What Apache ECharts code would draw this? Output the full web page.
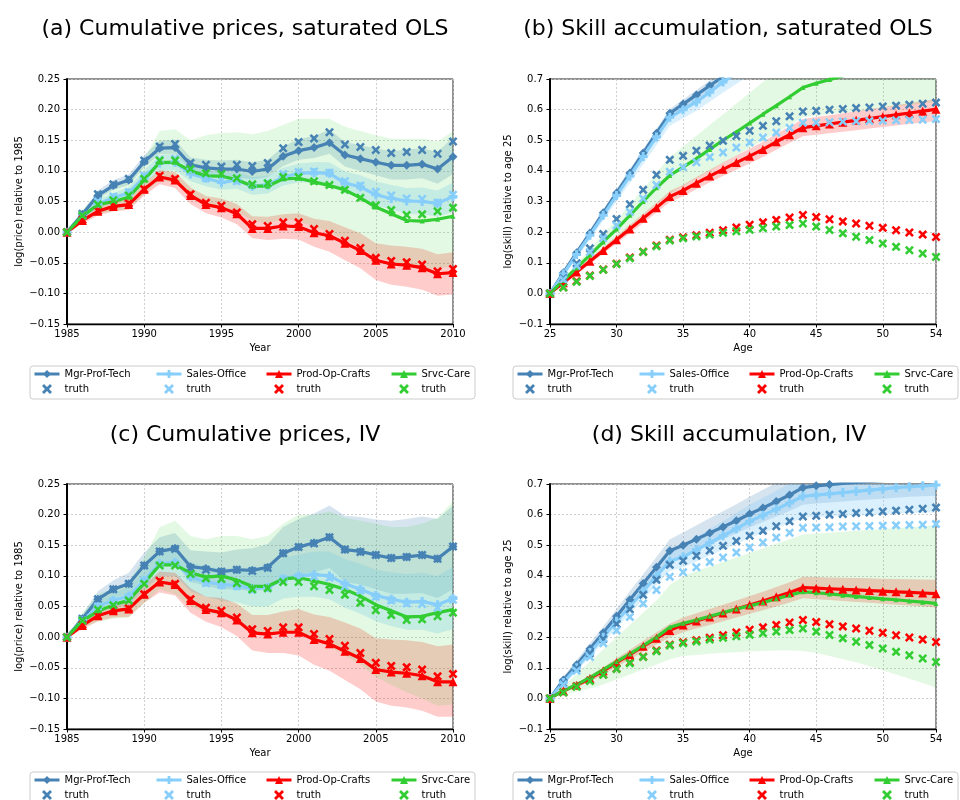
<!DOCTYPE html>
<html>
<head>
<meta charset="utf-8">
<script src="https://cdn.jsdelivr.net/npm/echarts@6/dist/echarts.min.js"></script>
<style>
  html, body { margin: 0; padding: 0; background: #fff; }
  #chart { width: 960px; height: 800px; }
</style>
</head>
<body>
<div id="chart"></div>
<script>
  // x values
  const years = [1985, 1986, 1987, 1988, 1989, 1990, 1991, 1992, 1993, 1994, 1995, 1996, 1997,
    1998, 1999, 2000, 2001, 2002, 2003, 2004, 2005, 2006, 2007, 2008, 2009, 2010];
  const ages = [25, 26, 27, 28, 29, 30, 31, 32, 33, 34, 35, 36, 37, 38, 39,
    40, 41, 42, 43, 44, 45, 46, 47, 48, 49, 50, 51, 52, 53, 54];

  // truth (same in both rows)
  const truthMgrPrice = [0, .03, .062, .078, .087, .117, .14, .144, .113, .11, .107, .11, .108, .113, .137, .147, .153, .163, .143, .139, .134, .129, .131, .134, .128, .148];
  const truthSalesPrice = [0, .027, .05, .058, .065, .092, .118, .12, .1, .088, .085, .083, .077, .08, .095, .098, .099, .097, .083, .076, .066, .06, .055, .054, .048, .061];
  const truthProdPrice = [0, .02, .035, .044, .047, .07, .092, .087, .062, .048, .043, .032, .013, .01, .016, .016, .005, -.003, -.014, -.026, -.042, -.047, -.049, -.053, -.064, -.06];
  const truthSrvcPrice = [0, .027, .045, .052, .06, .087, .117, .117, .103, .096, .095, .088, .078, .08, .09, .09, .083, .077, .069, .056, .044, .036, .028, .029, .034, .04];

  const truthMgrSkill = [0, .049, .098, .147, .194, .243, .291, .338, .387, .436, .449, .466, .483, .498, .514, .531, .547, .562, .578, .594, .596, .6, .602, .605, .607, .61, .613, .616, .619, .623];
  const truthSalesSkill = [0, .045, .09, .135, .18, .222, .266, .31, .354, .397, .412, .428, .445, .46, .476, .493, .509, .525, .541, .557, .558, .559, .561, .562, .563, .564, .565, .566, .567, .569];
  const truthProdSkill = [0, .02, .04, .058, .078, .097, .117, .136, .156, .175, .183, .19, .198, .206, .215, .224, .232, .24, .248, .256, .249, .242, .235, .228, .221, .214, .206, .199, .192, .184];
  const truthSrvcSkill = [0, .019, .038, .057, .077, .096, .115, .135, .154, .173, .18, .186, .192, .198, .203, .208, .213, .218, .223, .228, .218, .207, .196, .185, .174, .163, .152, .141, .13, .119];

  // (a) saturated OLS prices
  const estMgrA = [0, .029, .06, .076, .085, .115, .137, .138, .11, .105, .103, .103, .099, .103, .124, .133, .138, .146, .126, .12, .114, .109, .109, .111, .103, .123];
  const estSalesA = [0, .025, .046, .056, .064, .09, .113, .114, .095, .088, .081, .085, .075, .077, .09, .096, .097, .096, .08, .074, .061, .055, .051, .05, .047, .058];
  const estProdA = [0, .019, .034, .042, .045, .07, .09, .085, .06, .045, .04, .03, .006, .006, .01, .009, -.001, -.006, -.018, -.03, -.046, -.052, -.054, -.058, -.068, -.066];
  const estSrvcA = [0, .026, .045, .05, .057, .085, .114, .114, .1, .092, .091, .086, .075, .075, .087, .088, .082, .076, .069, .056, .041, .03, .019, .018, .021, .026];
  const loMgrA = [0, .025, .054, .069, .077, .106, .127, .128, .1, .094, .091, .09, .086, .09, .108, .118, .121, .128, .107, .1, .093, .086, .086, .088, .079, .095];
  const hiMgrA = [0, .034, .068, .085, .094, .126, .149, .151, .122, .118, .117, .118, .114, .118, .14, .152, .157, .167, .147, .142, .137, .132, .135, .137, .131, .155];
  const loSalesA = [0, .021, .039, .048, .055, .079, .1, .101, .083, .075, .069, .071, .061, .063, .076, .081, .081, .079, .063, .056, .044, .037, .03, .029, .025, .033];
  const hiSalesA = [0, .03, .053, .064, .073, .101, .126, .128, .108, .101, .096, .099, .09, .092, .105, .112, .114, .114, .099, .093, .083, .077, .072, .073, .068, .081];
  const loProdA = [0, .014, .027, .034, .036, .06, .078, .072, .046, .031, .024, .013, -.01, -.013, -.011, -.012, -.024, -.032, -.046, -.059, -.078, -.086, -.089, -.094, -.104, -.102];
  const hiProdA = [0, .024, .041, .05, .054, .08, .101, .098, .073, .059, .055, .046, .026, .025, .029, .031, .022, .018, .008, -.002, -.018, -.022, -.024, -.027, -.036, -.033];
  const loSrvcA = [0, .018, .03, .034, .038, .062, .085, .08, .06, .048, .042, .034, .018, .014, .022, .018, .008, 0, -.012, -.026, -.04, -.048, -.055, -.058, -.06, -.055];
  const hiSrvcA = [0, .036, .063, .074, .083, .12, .165, .168, .15, .158, .162, .163, .16, .165, .175, .185, .185, .185, .172, .165, .158, .153, .152, .153, .148, .165];

  // (b) saturated OLS skills
  const estMgrB = [0, .067, .133, .197, .263, .328, .393, .458, .523, .588, .618, .648, .678, .708, .738, .768, .798, .828, .858, .888, .893, .898, .903, .908, .913, .918, .923, .928, .933, .938];
  const estSalesB = [0, .063, .127, .19, .255, .32, .383, .447, .511, .575, .6, .625, .657, .69, .72, .75, .78, .81, .84, .87, .875, .88, .885, .89, .895, .9, .905, .91, .915, .92];
  const estProdB = [0, .035, .07, .105, .14, .175, .21, .245, .28, .316, .336, .36, .383, .405, .427, .448, .47, .495, .518, .541, .547, .553, .559, .565, .571, .577, .583, .589, .595, .601];
  const estSrvcB = [0, .042, .083, .125, .168, .21, .255, .3, .345, .385, .412, .44, .47, .5, .527, .556, .585, .613, .642, .672, .686, .698, .71, .722, .734, .746, .758, .77, .782, .794];
  const loMgrB = [0, .061, .125, .187, .252, .316, .38, .444, .508, .572, .601, .63, .66, .689, .718, .747, .776, .805, .834, .863, .867, .871, .875, .879, .883, .887, .891, .895, .899, .903];
  const hiMgrB = [0, .071, .14, .206, .273, .34, .405, .471, .537, .602, .633, .664, .695, .726, .757, .788, .819, .85, .881, .912, .918, .924, .93, .936, .942, .948, .954, .96, .966, .972];
  const loSalesB = [0, .056, .115, .175, .238, .3, .36, .422, .484, .547, .572, .596, .626, .656, .684, .712, .74, .768, .796, .824, .828, .832, .836, .84, .844, .848, .852, .856, .86, .864];
  const hiSalesB = [0, .068, .136, .202, .27, .336, .4, .466, .532, .597, .625, .652, .686, .72, .752, .784, .816, .848, .88, .912, .918, .924, .93, .936, .942, .948, .954, .96, .966, .972];
  const loProdB = [0, .031, .063, .096, .129, .163, .196, .23, .264, .298, .317, .34, .362, .383, .404, .424, .445, .469, .491, .513, .518, .523, .528, .533, .538, .543, .548, .553, .558, .563];
  const hiProdB = [0, .039, .077, .114, .151, .187, .224, .26, .296, .334, .355, .38, .404, .427, .45, .472, .495, .521, .545, .569, .576, .582, .588, .595, .602, .608, .615, .622, .628, .635];
  const loSrvcB = [0, .036, .072, .108, .145, .18, .215, .255, .29, .325, .35, .375, .4, .425, .45, .475, .5, .525, .55, .575, .58, .585, .59, .595, .6, .605, .61, .615, .62, .625];
  const hiSrvcB = [0, .048, .096, .145, .193, .24, .29, .34, .395, .445, .48, .515, .55, .585, .62, .655, .69, .725, .76, .795, .81, .825, .84, .855, .87, .885, .9, .915, .93, .945];

  // (c) IV prices
  const estMgrC = [0, .03, .062, .078, .087, .117, .14, .145, .115, .112, .107, .11, .109, .114, .137, .147, .154, .163, .143, .14, .134, .129, .131, .134, .128, .148];
  const estSalesC = [0, .027, .05, .06, .067, .093, .12, .122, .098, .09, .086, .084, .079, .081, .095, .1, .102, .1, .087, .078, .068, .062, .057, .058, .053, .063];
  const estProdC = [0, .019, .035, .043, .046, .07, .09, .086, .06, .045, .04, .028, .007, .005, .008, .008, -.004, -.011, -.023, -.035, -.053, -.057, -.059, -.063, -.073, -.073];
  const estSrvcC = [0, .027, .042, .053, .06, .088, .118, .118, .105, .098, .1, .093, .083, .083, .095, .097, .092, .086, .078, .067, .053, .043, .033, .034, .04, .045];
  const loMgrC = [0, .024, .05, .064, .07, .098, .118, .12, .09, .084, .078, .078, .075, .078, .095, .102, .106, .113, .09, .086, .078, .071, .071, .072, .064, .078];
  const hiMgrC = [0, .037, .075, .093, .105, .138, .163, .17, .142, .14, .138, .143, .145, .152, .18, .193, .202, .215, .198, .196, .192, .19, .193, .197, .193, .215];
  const loSalesC = [0, .02, .04, .048, .052, .077, .1, .1, .075, .066, .06, .057, .05, .05, .063, .066, .066, .062, .048, .038, .026, .018, .012, .012, .006, .013];
  const hiSalesC = [0, .034, .06, .072, .082, .11, .14, .145, .122, .115, .112, .112, .108, .112, .13, .135, .14, .14, .127, .12, .11, .106, .103, .105, .1, .115];
  const loProdC = [0, .013, .026, .032, .033, .056, .073, .068, .04, .025, .016, .002, -.022, -.026, -.026, -.03, -.045, -.055, -.07, -.085, -.105, -.112, -.115, -.12, -.13, -.13];
  const hiProdC = [0, .025, .044, .054, .06, .085, .107, .105, .08, .066, .064, .055, .036, .036, .042, .046, .037, .033, .024, .014, -.002, -.004, -.005, -.008, -.015, -.012];
  const loSrvcC = [0, .015, .025, .03, .032, .055, .078, .07, .05, .04, .036, .028, .01, .005, .01, .008, -.005, -.015, -.03, -.045, -.065, -.078, -.09, -.1, -.112, -.11];
  const hiSrvcC = [0, .04, .07, .08, .09, .13, .18, .19, .165, .16, .165, .165, .16, .165, .185, .2, .2, .205, .195, .19, .185, .18, .18, .185, .195, .222];

  // (d) IV skills
  const estMgrD = [0, .06, .11, .162, .214, .268, .322, .375, .428, .482, .5, .52, .54, .56, .58, .602, .622, .643, .664, .688, .694, .698, .702, .705, .708, .711, .714, .717, .72, .723];
  const estSalesD = [0, .052, .1, .15, .2, .252, .3, .35, .4, .448, .462, .485, .508, .531, .554, .578, .598, .618, .638, .66, .664, .668, .672, .676, .68, .684, .688, .691, .694, .697];
  const estProdD = [0, .025, .043, .065, .09, .117, .143, .17, .196, .222, .24, .253, .266, .279, .292, .305, .318, .332, .346, .362, .36, .358, .356, .354, .352, .35, .348, .346, .344, .342];
  const estSrvcD = [0, .025, .045, .068, .094, .12, .145, .172, .2, .232, .245, .256, .268, .28, .292, .302, .313, .325, .337, .348, .345, .341, .337, .333, .329, .325, .322, .318, .314, .31];
  const loMgrD = [0, .05, .098, .148, .197, .248, .3, .35, .4, .45, .466, .484, .502, .52, .538, .558, .576, .594, .612, .632, .636, .64, .643, .646, .649, .652, .655, .658, .66, .662];
  const hiMgrD = [0, .07, .125, .18, .235, .292, .35, .405, .462, .52, .542, .565, .588, .611, .634, .658, .681, .704, .727, .75, .757, .763, .769, .774, .779, .784, .789, .794, .799, .804];
  const loSalesD = [0, .044, .088, .135, .182, .23, .276, .323, .37, .416, .428, .447, .466, .485, .504, .524, .54, .556, .572, .59, .592, .594, .596, .598, .6, .602, .604, .605, .606, .607];
  const hiSalesD = [0, .06, .113, .166, .22, .275, .326, .38, .433, .485, .502, .527, .553, .579, .605, .632, .655, .678, .701, .726, .733, .74, .746, .752, .758, .764, .77, .775, .78, .785];
  const loProdD = [0, .02, .036, .055, .078, .103, .127, .152, .176, .2, .216, .228, .24, .252, .264, .276, .288, .3, .313, .327, .324, .321, .318, .315, .312, .309, .306, .303, .3, .297];
  const hiProdD = [0, .03, .05, .075, .102, .131, .159, .188, .216, .244, .264, .278, .292, .306, .32, .334, .348, .364, .379, .397, .396, .395, .394, .393, .392, .391, .39, .389, .388, .387];
  const loSrvcD = [0, .012, .022, .032, .045, .062, .078, .095, .11, .128, .138, .142, .146, .149, .151, .153, .155, .156, .156, .155, .148, .138, .128, .118, .105, .092, .078, .064, .05, .035];
  const hiSrvcD = [0, .04, .08, .12, .16, .2, .24, .28, .32, .37, .4, .415, .43, .445, .46, .475, .49, .505, .52, .535, .538, .541, .544, .547, .55, .553, .556, .559, .562, .565];

  const FONT = 'DejaVu Sans';
  const X_ICON = 'path://M0,2 L2,0 L5,3 L8,0 L10,2 L7,5 L10,8 L8,10 L5,7 L2,10 L0,8 L3,5 Z';
  const PLUS_ICON = 'path://M3.3,0 H6.7 V3.3 H10 V6.7 H6.7 V10 H3.3 V6.7 H0 V3.3 H3.3 Z';

  const groups = [
    {name: 'Mgr-Prof-Tech', color: '#4682b4', symbol: 'diamond', size: 9, band: 0.22},
    {name: 'Sales-Office', color: '#87cefa', symbol: PLUS_ICON, size: 9, band: 0.3},
    {name: 'Prod-Op-Crafts', color: '#ff0000', symbol: 'triangle', size: 9, band: 0.2},
    {name: 'Srvc-Care', color: '#32cd32', symbol: 'triangle', size: 5, band: 0.13}
  ];

  const panels = [
    {x: years, est: [estMgrA, estSalesA, estProdA, estSrvcA], truth: [truthMgrPrice, truthSalesPrice, truthProdPrice, truthSrvcPrice],
      lo: [loMgrA, loSalesA, loProdA, loSrvcA], hi: [hiMgrA, hiSalesA, hiProdA, hiSrvcA]},
    {x: ages, est: [estMgrB, estSalesB, estProdB, estSrvcB], truth: [truthMgrSkill, truthSalesSkill, truthProdSkill, truthSrvcSkill],
      lo: [loMgrB, loSalesB, loProdB, loSrvcB], hi: [hiMgrB, hiSalesB, hiProdB, hiSrvcB]},
    {x: years, est: [estMgrC, estSalesC, estProdC, estSrvcC], truth: [truthMgrPrice, truthSalesPrice, truthProdPrice, truthSrvcPrice],
      lo: [loMgrC, loSalesC, loProdC, loSrvcC], hi: [hiMgrC, hiSalesC, hiProdC, hiSrvcC]},
    {x: ages, est: [estMgrD, estSalesD, estProdD, estSrvcD], truth: [truthMgrSkill, truthSalesSkill, truthProdSkill, truthSrvcSkill],
      lo: [loMgrD, loSalesD, loProdD, loSrvcD], hi: [hiMgrD, hiSalesD, hiProdD, hiSrvcD]}
  ];

  const titles = ['(a) Cumulative prices, saturated OLS', '(b) Skill accumulation, saturated OLS',
    '(c) Cumulative prices, IV', '(d) Skill accumulation, IV'];

  const layout = [
    {left: 67, top: 79, titleX: 245, titleY: 29, legendX: 0, legendY: 366},
    {left: 550, top: 79, titleX: 728, titleY: 29, legendX: 483, legendY: 366},
    {left: 67, top: 484, titleX: 245, titleY: 435, legendX: 0, legendY: 772},
    {left: 550, top: 484, titleX: 729, titleY: 435, legendX: 483, legendY: 772}
  ];

  function minus(s) {
    return s.replace('-', '\u2212');
  }

  function bandRenderer(xs, lo, hi, op) {
    return function (params, api) {
      if (params.dataIndex !== 0) return null;
      const pts = [];
      for (let i = 0; i < xs.length; i++) pts.push(api.coord([xs[i], hi[i]]));
      for (let i = xs.length - 1; i >= 0; i--) pts.push(api.coord([xs[i], lo[i]]));
      const cs = params.coordSys;
      return {
        type: 'group',
        clipPath: {type: 'rect', shape: {x: cs.x, y: cs.y, width: cs.width, height: cs.height}},
        children: [{
          type: 'polygon',
          shape: {points: pts},
          style: {fill: api.visual('color'), opacity: op}
        }]
      };
    };
  }

  const chart = echarts.init(document.getElementById('chart'));

  const grid = [], xAxis = [], yAxis = [], series = [], legend = [], graphic = [];
  const splitLine = {show: true, lineStyle: {color: '#c4c4c4', width: 0.8, type: [2, 2]}};
  const labelStyle = {fontSize: 10, color: '#000', fontFamily: FONT};

  panels.forEach((p, k) => {
    const L = layout[k];
    const isPrice = (k % 2 === 0);
    grid.push({left: L.left, top: L.top, width: 386, height: 245, show: true,
      borderColor: '#222', borderWidth: 1, backgroundColor: 'transparent', outerBoundsMode: 'none'});

    xAxis.push({
      type: 'value', gridIndex: k,
      min: isPrice ? 1985 : 25, max: isPrice ? 2010 : 54, interval: 5,
      name: isPrice ? 'Year' : 'Age', nameLocation: 'middle', nameGap: 19,
      nameTextStyle: labelStyle,
      axisLine: {show: true, onZero: false, lineStyle: {color: '#000', width: 1.3}},
      axisTick: {show: true, inside: false, length: 3.5, lineStyle: {color: '#000'}},
      axisLabel: Object.assign({margin: 5, showMinLabel: true, showMaxLabel: true,
        formatter: v => String(Math.round(v))}, labelStyle),
      splitLine: splitLine
    });

    yAxis.push({
      type: 'value', gridIndex: k,
      min: isPrice ? -0.15 : -0.1, max: isPrice ? 0.25 : 0.7, interval: isPrice ? 0.05 : 0.1,
      name: isPrice ? 'log(price) relative to 1985' : 'log(skill) relative to age 25',
      nameLocation: 'middle', nameRotate: 90, nameGap: isPrice ? 43 : 37,
      nameTextStyle: labelStyle,
      axisLine: {show: true, onZero: false, lineStyle: {color: '#000', width: 2}},
      axisTick: {show: true, inside: false, length: 3.5, lineStyle: {color: '#000'}},
      axisLabel: Object.assign({margin: 7, showMinLabel: true, showMaxLabel: true,
        formatter: v => {
          const val = Math.abs(v) < 1e-9 ? 0 : v;
          return minus(val.toFixed(isPrice ? 2 : 1));
        }}, labelStyle),
      splitLine: splitLine
    });

    // simulation spread
    groups.forEach((g, i) => {
      series.push({
        type: 'custom', xAxisIndex: k, yAxisIndex: k, silent: true, z: 1,
        name: g.name + ' sims',
        itemStyle: {color: g.color},
        renderItem: bandRenderer(p.x, p.lo[i], p.hi[i], g.band),
        data: p.x.map((x, j) => [x, p.lo[i][j], p.hi[i][j]]),
        encode: {x: 0, y: [1, 2]}
      });
    });

    // estimates
    groups.forEach((g, i) => {
      series.push({
        type: 'line', name: g.name, xAxisIndex: k, yAxisIndex: k, z: 3,
        data: p.x.map((x, j) => [x, p.est[i][j]]),
        symbol: g.symbol, symbolSize: g.size, showSymbol: true,
        lineStyle: {color: g.color, width: 3.2},
        itemStyle: {color: g.color, opacity: 1},
        clip: true, silent: true
      });
    });

    // truth
    groups.forEach((g, i) => {
      series.push({
        type: 'scatter', name: 'truth', xAxisIndex: k, yAxisIndex: k, z: 4,
        data: p.x.map((x, j) => [x, p.truth[i][j]]),
        symbol: X_ICON, symbolSize: 9,
        itemStyle: {color: g.color, opacity: 1},
        clip: true, silent: true
      });
    });

    // legend columns
    const colX = [33, 155, 265, 390];
    groups.forEach((g, i) => {
      legend.push({
        orient: 'vertical', left: L.legendX + colX[i], top: L.legendY + 2,
        width: 120, height: 60,
        padding: 0, itemWidth: 25, itemHeight: 10, itemGap: 3,
        selectedMode: false,
        textStyle: {fontSize: 10, color: '#000', fontFamily: FONT, lineHeight: 12},
        lineStyle: {width: 3},
        data: [
          {name: g.name},
          {name: 'truth', icon: X_ICON, itemStyle: {color: g.color, opacity: 1}}
        ]
      });
    });

    graphic.push({
      type: 'rect', z: 0, silent: true,
      shape: {x: L.legendX + 30, y: L.legendY, width: 445, height: 33, r: 3},
      style: {fill: 'rgba(255,255,255,0.8)', stroke: '#cccccc', lineWidth: 1}
    });
    graphic.push({
      type: 'text', z: 10, silent: true, x: L.titleX, y: L.titleY,
      style: {text: titles[k], fill: '#000', font: '22px "DejaVu Sans"',
        align: 'center', verticalAlign: 'middle', textAlign: 'center', textVerticalAlign: 'middle'}
    });
  });

  chart.setOption({
    animation: false,
    backgroundColor: '#fff',
    textStyle: {fontFamily: FONT},
    grid, xAxis, yAxis, series, legend, graphic
  });
</script>
</body>
</html>
